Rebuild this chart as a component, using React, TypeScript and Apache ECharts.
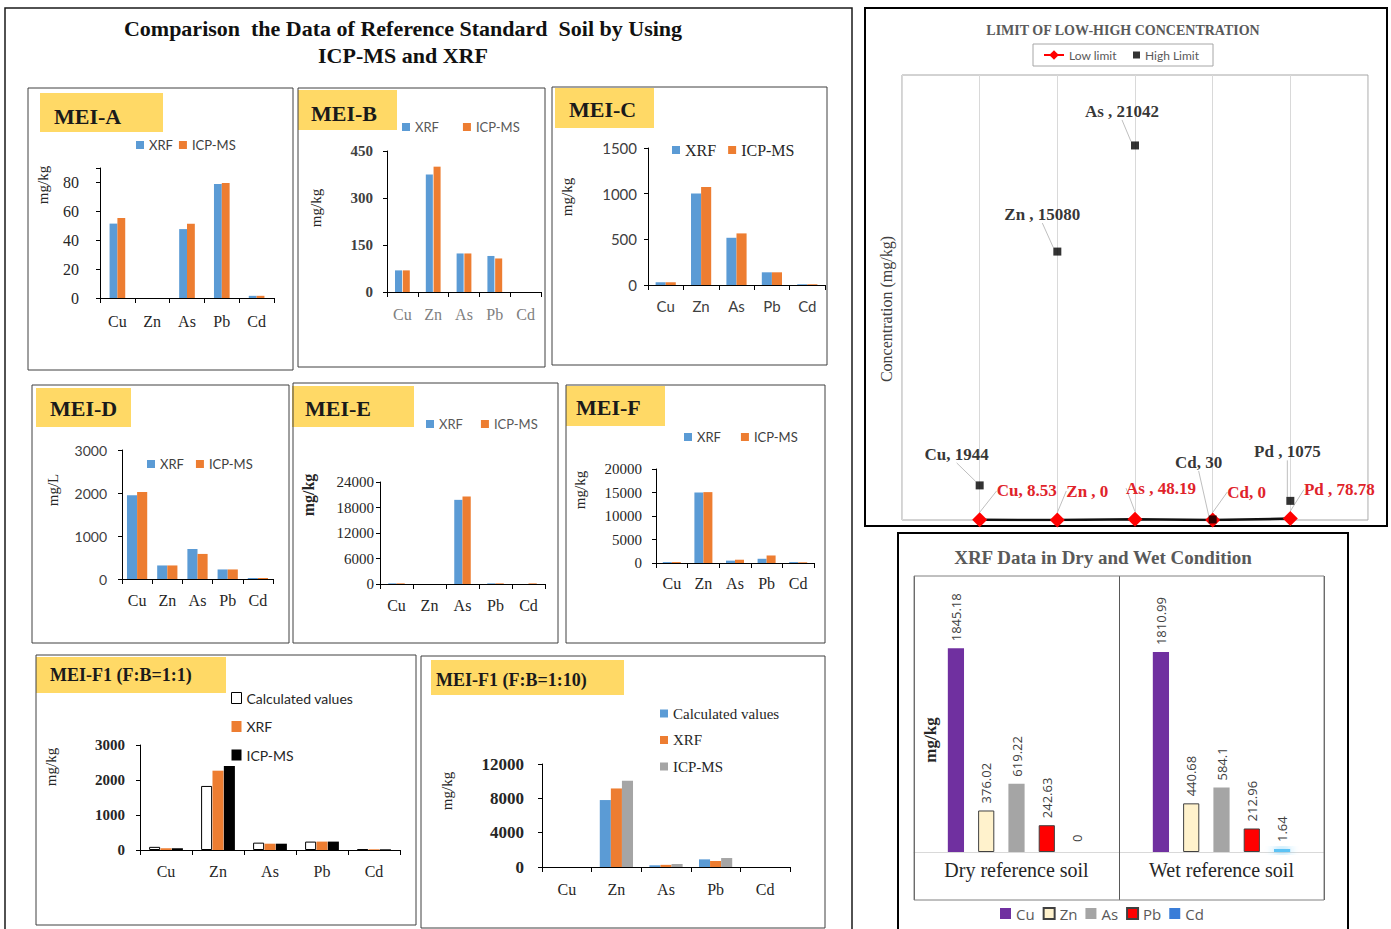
import React, { useEffect, useRef } from "react";
import * as echarts from "echarts";

// ---------------- data ----------------
const elements = ["Cu", "Zn", "As", "Pb", "Cd"];

const meiA_XRF = [51.5, 0, 47.7, 78.9, 1.5];
const meiA_ICP = [55.4, 0, 51.4, 79.6, 1.5];
const meiB_XRF = [69, 375, 123, 115, 0];
const meiB_ICP = [69, 400, 123, 107, 0];
const meiC_XRF = [30, 1002, 517, 139, 8];
const meiC_ICP = [30, 1074, 565, 139, 8];
const meiD_XRF = [1949, 315, 698, 222, 23];
const meiD_ICP = [2026, 315, 583, 222, 23];
const meiE_XRF = [150, 0, 19800, 150, 0];
const meiE_ICP = [150, 0, 20600, 150, 150];
const meiF_XRF = [200, 15000, 500, 900, 200];
const meiF_ICP = [200, 15080, 700, 1600, 150];
const f11_Calc = [90, 1830, 210, 240, 20];
const f11_XRF = [50, 2266, 180, 240, 20];
const f11_ICP = [50, 2400, 180, 240, 20];
const f110_Calc = [0, 7800, 200, 890, 0];
const f110_XRF = [0, 9150, 250, 700, 0];
const f110_ICP = [0, 10050, 350, 1045, 0];

const limitNames = ["Cu", "Zn", "As", "Cd", "Pd"];
const lowLimit = [8.53, 0, 48.19, 0, 78.78];
const highLimit = [1944, 15080, 21042, 30, 1075];
const lowSep = [", ", " , ", " , ", ", ", " , "];
const highSep = [", ", " , ", " , ", ", ", " , "];

const conditions = ["Dry reference soil", "Wet reference soil"];
const dwCu = [1845.18, 1810.99];
const dwZn = [376.02, 440.68];
const dwAs = [619.22, 584.1];
const dwPb = [242.63, 212.96];
const dwCd = [0, 1.64];

// ---------------- styles ----------------
const SERIF = '"Liberation Serif", "Times New Roman", serif';
const SANS = 'Lato, "Open Sans", sans-serif';
const BLUE = "#5B9BD5";
const ORANGE = "#ED7D31";
const GREY = "#A5A5A5";
const GOLD = "#FFD966";

type Lab = { font: string; size: number; bold?: boolean; color: string; margin: number };
type Panel = {
  grid: number[];
  max: number;
  interval: number;
  catGap: string;
  barGap: string;
  yLab: Lab;
  xLab: Lab;
  series: { name: string; data: number[]; color: string; border?: string }[];
  labelStep?: number;
};

const panels: Panel[] = [
  {
    grid: [100, 168, 174, 130], max: 90, interval: 20, catGap: "55%", barGap: "0%", labelStep: 20,
    yLab: { font: SERIF, size: 16, color: "#262626", margin: 21 },
    xLab: { font: SERIF, size: 16, color: "#262626", margin: 15 },
    series: [{ name: "XRF", data: meiA_XRF, color: BLUE }, { name: "ICP-MS", data: meiA_ICP, color: ORANGE }],
  },
  {
    grid: [387, 151, 154, 141], max: 450, interval: 150, catGap: "52%", barGap: "10%",
    yLab: { font: SERIF, size: 15, bold: true, color: "#404040", margin: 14 },
    xLab: { font: SERIF, size: 16, color: "#808080", margin: 14 },
    series: [{ name: "XRF", data: meiB_XRF, color: BLUE }, { name: "ICP-MS", data: meiB_ICP, color: ORANGE }],
  },
  {
    grid: [648, 148, 177, 137], max: 1500, interval: 500, catGap: "43%", barGap: "0%",
    yLab: { font: SANS, size: 15, color: "#404040", margin: 11 },
    xLab: { font: SANS, size: 15, color: "#404040", margin: 13 },
    series: [{ name: "XRF", data: meiC_XRF, color: BLUE }, { name: "ICP-MS", data: meiC_ICP, color: ORANGE }],
  },
  {
    grid: [122, 450, 151, 129], max: 3000, interval: 1000, catGap: "33%", barGap: "0%",
    yLab: { font: SANS, size: 14, color: "#404040", margin: 15 },
    xLab: { font: SERIF, size: 16, color: "#262626", margin: 13 },
    series: [{ name: "XRF", data: meiD_XRF, color: BLUE }, { name: "ICP-MS", data: meiD_ICP, color: ORANGE }],
  },
  {
    grid: [380, 482, 165, 102], max: 24000, interval: 6000, catGap: "50%", barGap: "0%",
    yLab: { font: SERIF, size: 15, color: "#262626", margin: 6 },
    xLab: { font: SERIF, size: 16, color: "#262626", margin: 13 },
    series: [{ name: "XRF", data: meiE_XRF, color: BLUE }, { name: "ICP-MS", data: meiE_ICP, color: ORANGE }],
  },
  {
    grid: [656, 469, 158, 94], max: 20000, interval: 5000, catGap: "43%", barGap: "0%",
    yLab: { font: SERIF, size: 15, color: "#262626", margin: 14 },
    xLab: { font: SERIF, size: 16, color: "#262626", margin: 12 },
    series: [{ name: "XRF", data: meiF_XRF, color: BLUE }, { name: "ICP-MS", data: meiF_ICP, color: ORANGE }],
  },
  {
    grid: [140, 745, 260, 105], max: 3000, interval: 1000, catGap: "35%", barGap: "3%",
    yLab: { font: SERIF, size: 15, bold: true, color: "#262626", margin: 15 },
    xLab: { font: SERIF, size: 16, color: "#262626", margin: 13 },
    series: [
      { name: "Calculated values", data: f11_Calc, color: "#ffffff", border: "#000000" },
      { name: "XRF", data: f11_XRF, color: ORANGE },
      { name: "ICP-MS", data: f11_ICP, color: "#000000" },
    ],
  },
  {
    grid: [542, 764, 248, 103], max: 12000, interval: 4000, catGap: "33%", barGap: "0%",
    yLab: { font: SERIF, size: 17, bold: true, color: "#262626", margin: 18 },
    xLab: { font: SERIF, size: 16, color: "#262626", margin: 14 },
    series: [
      { name: "Calculated values", data: f110_Calc, color: BLUE },
      { name: "XRF", data: f110_XRF, color: ORANGE },
      { name: "ICP-MS", data: f110_ICP, color: GREY },
    ],
  },
];

const boxes = [
  [28, 88, 265, 282], [298, 88, 247, 279], [552, 87, 275, 278],
  [32, 385, 257, 258], [293, 383, 265, 260], [566, 385, 259, 258],
  [36, 655, 380, 270], [421, 656, 404, 272],
];
const tags: [string, number[], number, number, number][] = [
  ["MEI-A", [40, 93, 123, 39], 54, 116, 22],
  ["MEI-B", [298, 90, 99, 40], 311, 113, 22],
  ["MEI-C", [555, 88, 99, 40], 569, 109, 22],
  ["MEI-D", [36, 388, 95, 39], 50, 408, 22],
  ["MEI-E", [292, 386, 122, 41], 305, 408, 22],
  ["MEI-F", [566, 386, 99, 40], 576, 407, 22],
  ["MEI-F1 (F:B=1:1)", [36, 657, 190, 36], 50, 675, 18],
  ["MEI-F1 (F:B=1:10)", [431, 660, 193, 35], 436, 680, 18],
];
const yTitles: [string, number, number, string, number, boolean][] = [
  ["mg/kg", 43, 185, SERIF, 15, false],
  ["mg/kg", 316, 208, SERIF, 15, false],
  ["mg/kg", 567, 197, SERIF, 15, false],
  ["mg/L", 53, 490, SERIF, 15, false],
  ["mg/kg", 308, 495, SERIF, 16, true],
  ["mg/kg", 580, 490, SERIF, 15, false],
  ["mg/kg", 51, 767, SERIF, 15, false],
  ["mg/kg", 447, 791, SERIF, 15, false],
];
const legends = [
  { left: 136, cy: 146, gap: 6, font: SANS, size: 13, color: "#404040" },
  { left: 402, cy: 128, gap: 24, font: SANS, size: 13, color: "#595959" },
  { left: 672, cy: 151, gap: 12, font: SERIF, size: 16, color: "#262626" },
  { left: 147, cy: 465, gap: 12, font: SANS, size: 13, color: "#404040" },
  { left: 426, cy: 425, gap: 18, font: SANS, size: 13, color: "#595959" },
  { left: 684, cy: 438, gap: 20, font: SANS, size: 13, color: "#404040" },
];
const lowOffsets = [[47, -29], [30, -29], [26, -31], [34, -28], [49, -29]];
const highOffsets = [[-23, -31], [-15, -37], [-13, -34], [-14, -57], [-3, -49]];

function txt(text: string, x: number, y: number, o: any) {
  return {
    type: "text",
    x,
    y,
    rotation: o.rot || 0,
    z: 20,
    style: {
      text,
      fill: o.color || "#262626",
      fontFamily: o.font || SERIF,
      fontSize: o.size || 14,
      fontWeight: o.bold ? "bold" : "normal",
      align: o.align || "center",
      verticalAlign: "middle",
      textAlign: o.align || "center",
      textVerticalAlign: "middle",
    },
  };
}
function rect(x: number, y: number, w: number, h: number, fill: string, stroke: string, lw = 1, z = 1) {
  return { type: "rect", z, shape: { x, y, width: w, height: h }, style: { fill, stroke, lineWidth: lw } };
}

function buildOption() {
  const grid: any[] = [];
  const xAxis: any[] = [];
  const yAxis: any[] = [];
  const series: any[] = [];
  const legend: any[] = [];

  panels.forEach((p, i) => {
    grid.push({ left: p.grid[0], top: p.grid[1], width: p.grid[2], height: p.grid[3] });
    xAxis.push({
      type: "category",
      gridIndex: i,
      data: elements,
      axisLine: { lineStyle: { color: "#000", width: 1 } },
      axisTick: { show: true, length: 5, lineStyle: { color: "#000" } },
      axisLabel: {
        fontFamily: p.xLab.font, fontSize: p.xLab.size, color: p.xLab.color, margin: p.xLab.margin,
      },
      splitLine: { show: false },
    });
    const step = p.labelStep;
    yAxis.push({
      type: "value",
      gridIndex: i,
      min: 0,
      max: p.max,
      interval: p.interval,
      axisLine: { show: true, lineStyle: { color: "#000", width: 1 } },
      axisTick: { show: true, length: 4, lineStyle: { color: "#000" } },
      axisLabel: {
        fontFamily: p.yLab.font, fontSize: p.yLab.size, color: p.yLab.color, margin: p.yLab.margin,
        fontWeight: p.yLab.bold ? "bold" : "normal",
        formatter: (v: number) => (step && v % step !== 0 ? "" : String(v)),
      },
      splitLine: { show: false },
    });
    p.series.forEach((s) => {
      series.push({
        type: "bar",
        name: s.name,
        xAxisIndex: i,
        yAxisIndex: i,
        data: s.data,
        barCategoryGap: p.catGap,
        barGap: p.barGap,
        itemStyle: { color: s.color, borderColor: s.border || s.color, borderWidth: s.border ? 1 : 0 },
      });
    });
  });

  legends.forEach((l) => {
    legend.push({
      data: ["XRF", "ICP-MS"],
      left: l.left,
      top: l.cy - l.size / 2 - 1,
      padding: 0,
      itemGap: l.gap,
      itemWidth: 8,
      itemHeight: 8,
      icon: "rect",
      textStyle: { fontFamily: l.font, fontSize: l.size, color: l.color },
    });
  });
  legend.push({
    orient: "vertical",
    data: [
      { name: "Calculated values", itemStyle: { color: "#ffffff", borderColor: "#000", borderWidth: 1 } },
      { name: "XRF", itemStyle: { color: ORANGE } },
      { name: "ICP-MS", itemStyle: { color: "#000000" } },
    ],
    left: 231, top: 691, padding: 0, itemGap: 14.5, itemWidth: 10, itemHeight: 11, icon: "rect",
    textStyle: { fontFamily: SANS, fontSize: 14, color: "#262626" },
  });
  legend.push({
    orient: "vertical",
    data: [
      { name: "Calculated values", itemStyle: { color: BLUE, borderWidth: 0 } },
      { name: "XRF", itemStyle: { color: ORANGE } },
      { name: "ICP-MS", itemStyle: { color: GREY } },
    ],
    left: 660, top: 706, padding: 0, itemGap: 11.5, itemWidth: 8, itemHeight: 8, icon: "rect",
    textStyle: { fontFamily: SERIF, fontSize: 15, color: "#262626" },
  });

  // ---------- limit chart ----------
  const li = panels.length;
  grid.push({ left: 902, top: 75, width: 466, height: 445, show: true, borderColor: "#a6a6a6", borderWidth: 1 });
  xAxis.push({
    type: "value", gridIndex: li, min: 0, max: 6, interval: 1,
    axisLine: { show: false }, axisTick: { show: false }, axisLabel: { show: false },
    splitLine: { show: true, lineStyle: { color: "#d9d9d9", width: 1 } },
  });
  yAxis.push({
    type: "value", gridIndex: li, min: 0, max: 25000,
    axisLine: { show: false }, axisTick: { show: false }, axisLabel: { show: false },
    splitLine: { show: false },
  });
  series.push({
    type: "line",
    name: "Low limit",
    xAxisIndex: li,
    yAxisIndex: li,
    data: lowLimit.map((v, k) => ({ value: [k + 1, v], name: limitNames[k] })),
    symbol: "diamond",
    symbolSize: 15,
    itemStyle: { color: "#FF0000" },
    lineStyle: { color: "#111", width: 2.5 },
    z: 3,
    label: {
      show: true,
      position: "inside",
      formatter: (p: any) => limitNames[p.dataIndex] + lowSep[p.dataIndex] + lowLimit[p.dataIndex],
      fontFamily: SERIF, fontSize: 17, fontWeight: "bold", color: "#E0232A",
    },
    labelLayout: (p: any) => ({ dx: lowOffsets[p.dataIndex][0], dy: lowOffsets[p.dataIndex][1] }),
    labelLine: { show: true, lineStyle: { color: "#bfbfbf", width: 1 } },
  });
  series.push({
    type: "scatter",
    name: "High Limit",
    xAxisIndex: li,
    yAxisIndex: li,
    data: highLimit.map((v, k) => ({ value: [k + 1, v], name: limitNames[k] })),
    symbol: "rect",
    symbolSize: 8,
    itemStyle: { color: "#000" },
    z: 4,
    label: {
      show: true,
      position: "inside",
      formatter: (p: any) => limitNames[p.dataIndex] + highSep[p.dataIndex] + highLimit[p.dataIndex],
      fontFamily: SERIF, fontSize: 17, fontWeight: "bold", color: "#000",
    },
    labelLayout: (p: any) => ({ dx: highOffsets[p.dataIndex][0], dy: highOffsets[p.dataIndex][1] }),
    labelLine: { show: true, lineStyle: { color: "#bfbfbf", width: 1 } },
  });
  legend.push({
    data: [{ name: "Low limit", itemStyle: { color: "#FF0000" }, lineStyle: { color: "#FF0000", width: 2 } }],
    left: 1043, top: 49, padding: 0, itemWidth: 20, itemHeight: 12,
    textStyle: { fontFamily: SANS, fontSize: 12, color: "#595959" },
  });
  legend.push({
    data: ["High Limit"],
    left: 1133, top: 49, padding: 0, itemWidth: 7, itemHeight: 7,
    textStyle: { fontFamily: SANS, fontSize: 12, color: "#595959" },
  });

  // ---------- dry / wet chart ----------
  const di = li + 1;
  grid.push({ left: 914, top: 576, width: 410, height: 276 });
  xAxis.push({
    type: "category", gridIndex: di, data: conditions,
    axisLine: { lineStyle: { color: "#d9d9d9", width: 1 } },
    axisTick: { show: true, length: 48, lineStyle: { color: "#595959" } },
    axisLabel: { fontFamily: SERIF, fontSize: 20, color: "#262626", margin: 8 },
    splitLine: { show: true, lineStyle: { color: "#595959", width: 1 } },
  });
  yAxis.push({
    type: "value", gridIndex: di, min: 0, max: 2500,
    axisLine: { show: false }, axisTick: { show: false }, axisLabel: { show: false }, splitLine: { show: false },
  });
  const dwSeries: [string, number[], any, number][] = [
    ["Cu", dwCu, { color: "#7030A0" }, 0],
    ["Zn", dwZn, { color: "#FFF2CC", borderColor: "#404040", borderWidth: 1 }, 0],
    ["As", dwAs, { color: GREY }, 0],
    ["Pb", dwPb, { color: "#FF0000", borderColor: "#404040", borderWidth: 1 }, 0],
    ["Cd", dwCd, { color: "#5BC3F5", shadowBlur: 8, shadowColor: "#33B5F5" }, 3],
  ];
  dwSeries.forEach(([name, data, style, minH]) => {
    series.push({
      type: "bar", name, xAxisIndex: di, yAxisIndex: di,
      data: data.map((v) =>
        v === 0
          ? { value: v, itemStyle: { color: "rgba(0,0,0,0)", shadowBlur: 0, shadowColor: "rgba(0,0,0,0)", borderWidth: 0 } }
          : v
      ),
      barCategoryGap: "33%", barGap: "87%",
      barMinHeight: minH,
      itemStyle: style,
      label: {
        show: true, position: "top", rotate: 90, align: "left", verticalAlign: "middle", distance: 7,
        fontFamily: '"Open Sans", sans-serif', fontSize: 13, color: "#404040",
      },
    });
  });
  legend.push({
    data: ["Cu", "Zn", "As", "Pb", { name: "Cd", itemStyle: { color: "#3A7DD8", shadowBlur: 0, borderWidth: 0, opacity: 1 } }],
    left: 1000, top: 906, padding: 0, itemGap: 8, itemWidth: 11, itemHeight: 11, icon: "rect",
    textStyle: { fontFamily: '"Open Sans", sans-serif', fontSize: 15, color: "#595959" },
  });

  // ---------- graphics ----------
  const graphic: any[] = [];
  graphic.push(rect(5, 8, 847, 930, "none", "#1a1a1a", 1.5));
  graphic.push(rect(865, 8, 522, 518, "none", "#000", 2));
  graphic.push(rect(898, 533, 450, 400, "none", "#000", 2));
  boxes.forEach((b) => graphic.push(rect(b[0], b[1], b[2], b[3], "none", "#404040", 1)));
  tags.forEach(([t, r, tx, ty, fs]) => {
    graphic.push(rect(r[0], r[1], r[2], r[3], GOLD, "none", 0, 0));
    graphic.push(txt(t, tx, ty, { size: fs, bold: true, align: "left", color: "#1a1a1a" }));
  });
  yTitles.forEach(([t, x, y, f, s, b]) =>
    graphic.push(txt(t, x, y, { font: f, size: s, bold: b, rot: Math.PI / 2, color: "#262626" }))
  );
  graphic.push(txt("Comparison  the Data of Reference Standard  Soil by Using", 403, 28, { size: 22, bold: true, color: "#111" }));
  graphic.push(txt("ICP-MS and XRF", 403, 55, { size: 22, bold: true, color: "#111" }));
  graphic.push(txt("LIMIT OF LOW-HIGH CONCENTRATION", 1123, 30, { size: 14, bold: true, color: "#595959" }));
  graphic.push(rect(1033, 44, 180, 22, "none", "#a6a6a6", 1));
  graphic.push(txt("Concentration (mg/kg)", 886, 309, { size: 16, rot: Math.PI / 2, color: "#404040" }));
  graphic.push(txt("XRF Data in Dry and Wet Condition", 1103, 557, { size: 19, bold: true, color: "#595959" }));
  graphic.push(rect(914, 576, 410, 324, "none", "#808080", 1));
  graphic.push(txt("mg/kg", 930, 740, { size: 17, bold: true, rot: Math.PI / 2, color: "#262626" }));

  return {
    animation: false,
    backgroundColor: "#ffffff",
    grid,
    xAxis,
    yAxis,
    series,
    legend,
    graphic,
  };
}

export default function App() {
  const ref = useRef<HTMLDivElement>(null);
  useEffect(() => {
    if (!ref.current) return;
    const chart = echarts.init(ref.current, undefined, { renderer: "svg" });
    chart.setOption(buildOption() as any);
    return () => chart.dispose();
  }, []);
  return (
    <div
      ref={ref}
      style={{ position: "absolute", left: 0, top: 0, width: 1391, height: 929, background: "#fff" }}
    />
  );
}
